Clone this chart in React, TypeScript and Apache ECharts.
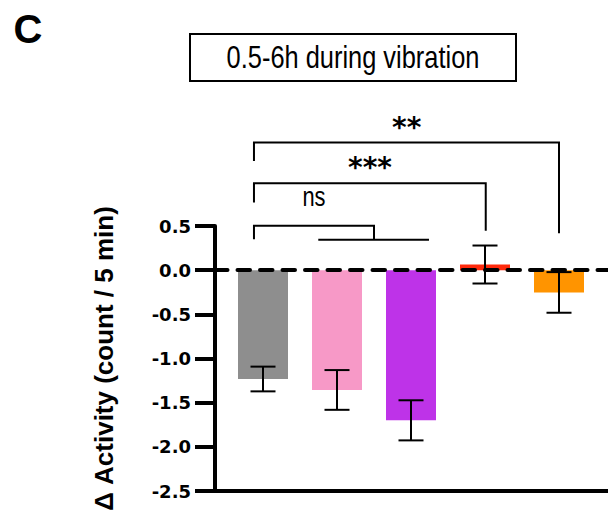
import React, { useEffect, useRef } from "react";
import * as echarts from "echarts";

// ---- data ----
const categories = ["Group 1", "Group 2", "Group 3", "Group 4", "Group 5"];
const xPositions = [1, 2, 3, 4, 5];
const means = [-1.232, -1.356, -1.7, 0.064, -0.252];
const sems = [0.14, 0.225, 0.227, 0.215, 0.23];
const barColors = ["#8e8e8e", "#f799c7", "#be33e8", "#ff2a0c", "#ff9400"];
const yTickMin = -2.5;
const yTickMax = 0.5;
const yTickStep = 0.5;

// significance brackets, in data units (x = category position, y = value)
const bracketLabels = ["**", "***", "ns"];
const bracketPaths = [
  [[0.878, 1.237], [0.878, 1.446], [5, 1.446], [5, 0.419]],
  [[0.878, 0.766], [0.878, 0.985], [4.01, 0.985], [4.01, 0.445]],
  [[0.878, 0.351], [0.878, 0.502], [2.5, 0.502], [2.5, 0.343]],
];
const bracketExtras = [[], [], [[1.747, 0.343], [3.243, 0.343]]];
const bracketTextPos = [[2.942, 1.612], [2.446, 1.16], [1.689, 0.845]];

const FONT = "'Liberation Sans', Arial, Helvetica, sans-serif";

export default function App() {
  const ref = useRef<HTMLDivElement>(null);
  useEffect(() => {
    const chart = echarts.init(ref.current!, null, { renderer: "svg" });
    const xMin = 1 - 48 / 74;
    const xMax = xMin + 393 / 74;
    const option: any = {
      animation: false,
      backgroundColor: "#fff",
      grid: { left: 215, right: 0, top: 226, bottom: 29, containLabel: false },
      xAxis: {
        type: "value",
        min: xMin,
        max: xMax,
        axisLine: { show: true, onZero: false, lineStyle: { color: "#000", width: 4 } },
        axisTick: { show: false },
        axisLabel: { show: false },
        splitLine: { show: false },
      },
      yAxis: {
        type: "value",
        min: yTickMin,
        max: yTickMax,
        interval: yTickStep,
        name: "Δ Activity (count / 5 min)",
        nameLocation: "middle",
        nameGap: 98,
        nameTextStyle: { fontFamily: FONT, fontWeight: "bold", fontSize: 26, color: "#000" },
        axisLine: { show: true, lineStyle: { color: "#000", width: 4 } },
        axisTick: { show: true, length: 20, lineStyle: { color: "#000", width: 4 } },
        axisLabel: {
          margin: 24,
          fontFamily: "'DejaVu Sans', sans-serif",
          fontWeight: "bold",
          fontSize: 18,
          color: "#000",
          formatter: (v: number) => (Math.abs(v) < 1e-9 ? "0.0" : v.toFixed(1)),
        },
        splitLine: { show: false },
      },
      graphic: [
        {
          type: "text",
          x: 28,
          y: 29,
          style: { text: "C", fontFamily: FONT, fontWeight: "bold", fontSize: 40, fill: "#000", align: "center", verticalAlign: "middle" },
        },
        {
          type: "rect",
          x: 190,
          y: 34,
          shape: { width: 326, height: 47 },
          style: { fill: "#fff", stroke: "#000", lineWidth: 2 },
        },
        {
          type: "text",
          x: 353,
          y: 57,
          scaleX: 0.82,
          style: { text: "0.5-6h during vibration", fontFamily: FONT, fontSize: 31, fill: "#000", align: "center", verticalAlign: "middle" },
        },
      ],
      series: [
        {
          type: "bar",
          name: "mean",
          data: xPositions.map((x, i) => ({ value: [x, means[i]], name: categories[i], itemStyle: { color: barColors[i] } })),
          barWidth: 50,
          z: 2,
          markLine: {
            silent: true,
            symbol: ["none", "none"],
            label: { show: false },
            lineStyle: { color: "#000", width: 4, type: [12.5, 10], cap: "round" },
            data: [{ yAxis: 0 }],
            z: 3,
          },
        },
        {
          type: "custom",
          name: "sem",
          z: 10,
          clip: false,
          data: xPositions.map((x, i) => [x, means[i], sems[i]]),
          encode: { x: 0, y: 1 },
          renderItem: (params: any, api: any) => {
            const x = api.value(0);
            const m = api.value(1);
            const s = api.value(2);
            const top = api.coord([x, m + s]);
            const bot = api.coord([x, m - s]);
            const hw = 12.5;
            const st = { stroke: "#000", lineWidth: 2 };
            return {
              type: "group",
              children: [
                { type: "line", shape: { x1: top[0], y1: top[1], x2: bot[0], y2: bot[1] }, style: st },
                { type: "line", shape: { x1: top[0] - hw, y1: top[1], x2: top[0] + hw, y2: top[1] }, style: st },
                { type: "line", shape: { x1: bot[0] - hw, y1: bot[1], x2: bot[0] + hw, y2: bot[1] }, style: st },
              ],
            };
          },
        },
        {
          type: "custom",
          name: "brackets",
          z: 10,
          clip: false,
          data: bracketTextPos.map((p) => [p[0], p[1]]),
          encode: { x: 0, y: 1 },
          renderItem: (params: any, api: any) => {
            const i = params.dataIndex;
            const pts = bracketPaths[i].map((p) => api.coord(p));
            const children: any[] = [
              { type: "polyline", shape: { points: pts }, style: { stroke: "#000", lineWidth: 2, fill: "none" } },
            ];
            if (bracketExtras[i].length) {
              children.push({
                type: "polyline",
                shape: { points: bracketExtras[i].map((p) => api.coord(p)) },
                style: { stroke: "#000", lineWidth: 2, fill: "none" },
              });
            }
            const tp = api.coord(bracketTextPos[i]);
            const isStar = bracketLabels[i] !== "ns";
            children.push({
              type: "text",
              x: tp[0],
              y: tp[1],
              scaleX: isStar ? 1 : 0.78,
              style: {
                text: bracketLabels[i],
                fontFamily: isStar ? "'DejaVu Sans', sans-serif" : FONT,
                fontWeight: isStar ? "bold" : "normal",
                fontSize: isStar ? 28 : 28,
                fill: "#000",
                align: "center",
                verticalAlign: "middle",
              },
            });
            return { type: "group", children };
          },
        },
      ],
    };
    chart.setOption(option);
    return () => chart.dispose();
  }, []);
  return (
    <div
      ref={ref}
      style={{ position: "fixed", left: 0, top: 0, width: 608, height: 520, background: "#fff" }}
    />
  );
}
